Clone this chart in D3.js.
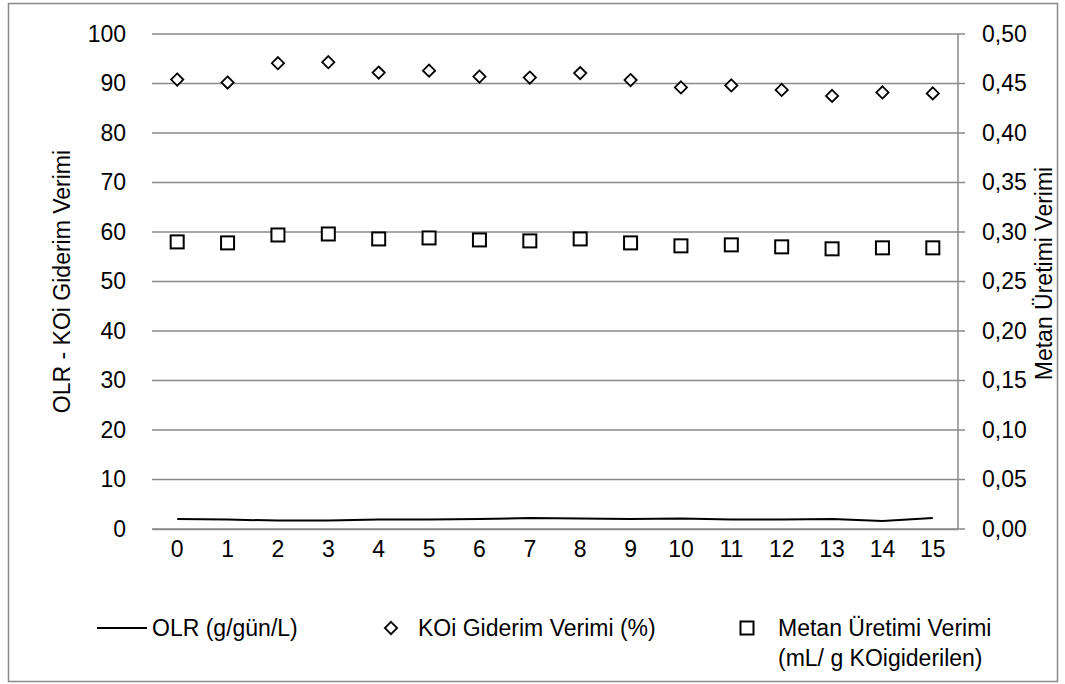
<!DOCTYPE html>
<html>
<head>
<meta charset="utf-8">
<script src="https://cdn.jsdelivr.net/npm/d3@7"></script>
<style>
  html, body { margin: 0; padding: 0; background: #fff; }
  svg text { font-family: "Liberation Sans", Arial, sans-serif; fill: #000; }
</style>
</head>
<body>
<svg id="chart" width="1065" height="684"></svg>
<script>
const categories = ["0","1","2","3","4","5","6","7","8","9","10","11","12","13","14","15"];
const olr = [2.0, 1.9, 1.7, 1.7, 1.9, 1.9, 2.0, 2.2, 2.1, 2.0, 2.1, 1.9, 1.9, 2.0, 1.6, 2.2];
const koiGiderim = [90.8, 90.2, 94.1, 94.3, 92.2, 92.6, 91.4, 91.2, 92.1, 90.7, 89.2, 89.6, 88.7, 87.5, 88.2, 88.0];
const metanUretimi = [0.290, 0.289, 0.297, 0.298, 0.293, 0.294, 0.292, 0.291, 0.293, 0.289, 0.286, 0.287, 0.285, 0.283, 0.284, 0.284];
const leftTicks = [0,10,20,30,40,50,60,70,80,90,100];
const rightTicks = [0,0.05,0.10,0.15,0.20,0.25,0.30,0.35,0.40,0.45,0.50];
const leftTitle = "OLR - KOi Giderim Verimi";
const rightTitle = "Metan Üretimi Verimi";
const legendLabels = ["OLR (g/gün/L)", "KOi Giderim Verimi (%)", "Metan Üretimi Verimi", "(mL/ g  KOigiderilen)"];

const svg = d3.select("#chart");
const FS = 23;
const m = {left: 152, right: 958, top: 34, bottom: 529};
const gridColor = "#8a8a8a";

// outer border
svg.append("rect").attr("x", 8.5).attr("y", 3.5).attr("width", 1049).attr("height", 678)
  .attr("fill", "none").attr("stroke", "#8a8a8a").attr("stroke-width", 1.5);

const x = d3.scaleBand().domain(categories).range([m.left, m.right]);
const yL = d3.scaleLinear().domain([0, 100]).range([m.bottom, m.top]);
const yR = d3.scaleLinear().domain([0, 0.5]).range([m.bottom, m.top]);

// gridlines
svg.append("g").selectAll("line").data(leftTicks).join("line")
  .attr("x1", m.left).attr("x2", m.right + 7)
  .attr("y1", d => yL(d)).attr("y2", d => yL(d))
  .attr("stroke", gridColor).attr("stroke-width", 1.5);

// right axis line
svg.append("line").attr("x1", m.right).attr("x2", m.right)
  .attr("y1", m.top).attr("y2", m.bottom)
  .attr("stroke", gridColor).attr("stroke-width", 1.5);

// left axis labels
const gL = svg.append("g").attr("transform", `translate(${m.left},0)`)
  .call(d3.axisLeft(yL).tickValues(leftTicks).tickSize(0).tickPadding(26));
gL.select(".domain").remove();
gL.selectAll("text").style("font-size", FS + "px").style("font-family", '"Liberation Sans", Arial, sans-serif').attr("fill", "#000");

// right axis labels
const fmtR = d => d3.format(".2f")(d).replace(".", ",");
const gR = svg.append("g").attr("transform", `translate(${m.right},0)`)
  .call(d3.axisRight(yR).tickValues(rightTicks).tickSize(0).tickPadding(24).tickFormat(fmtR));
gR.select(".domain").remove();
gR.selectAll("text").style("font-size", FS + "px").style("font-family", '"Liberation Sans", Arial, sans-serif').attr("fill", "#000");

// bottom axis labels
const gB = svg.append("g").attr("transform", `translate(0,${m.bottom})`)
  .call(d3.axisBottom(x).tickSize(0).tickPadding(12));
gB.select(".domain").attr("stroke", gridColor).attr("stroke-width", 1.5);
gB.selectAll("text").style("font-size", FS + "px").style("font-family", '"Liberation Sans", Arial, sans-serif').attr("fill", "#000");

const cx = d => x(d) + x.bandwidth() / 2;

// OLR line
svg.append("path").datum(olr)
  .attr("d", d3.line().x((d, i) => cx(categories[i])).y(d => yL(d)))
  .attr("fill", "none").attr("stroke", "#000").attr("stroke-width", 2);

// diamonds
const diamond = d3.symbol().type(d3.symbolDiamond2).size(95);
svg.append("g").selectAll("path").data(koiGiderim).join("path")
  .attr("d", diamond)
  .attr("transform", (d, i) => `translate(${cx(categories[i])},${yL(d)})`)
  .attr("fill", "#fff").attr("stroke", "#000").attr("stroke-width", 1.8);

// squares
const sq = 13;
svg.append("g").selectAll("rect").data(metanUretimi).join("rect")
  .attr("x", (d, i) => cx(categories[i]) - sq / 2)
  .attr("y", d => yR(d) - sq / 2)
  .attr("width", sq).attr("height", sq)
  .attr("fill", "#fff").attr("stroke", "#000").attr("stroke-width", 2);

// axis titles
svg.append("text").attr("transform", `translate(70,${(m.top + m.bottom) / 2}) rotate(-90)`)
  .attr("text-anchor", "middle").style("font-size", FS + "px").text(leftTitle);
svg.append("text").attr("transform", `translate(1052,${(m.top + m.bottom) / 2 - 8}) rotate(-90)`)
  .attr("text-anchor", "middle").style("font-size", FS + "px").text(rightTitle);

// legend
const ly = 628;
const lg = svg.append("g");
lg.append("line").attr("x1", 97).attr("x2", 147).attr("y1", ly).attr("y2", ly)
  .attr("stroke", "#000").attr("stroke-width", 2);
lg.append("text").attr("x", 152).attr("y", ly).attr("dy", "0.35em").style("font-size", FS + "px").text(legendLabels[0]);
lg.append("path").attr("d", diamond).attr("transform", `translate(391,${ly})`)
  .attr("fill", "#fff").attr("stroke", "#000").attr("stroke-width", 1.8);
lg.append("text").attr("x", 418).attr("y", ly).attr("dy", "0.35em").style("font-size", FS + "px").text(legendLabels[1]);
lg.append("rect").attr("x", 747 - sq / 2).attr("y", ly - sq / 2).attr("width", sq).attr("height", sq)
  .attr("fill", "#fff").attr("stroke", "#000").attr("stroke-width", 2);
lg.append("text").attr("x", 778).attr("y", ly).attr("dy", "0.35em").style("font-size", FS + "px").text(legendLabels[2]);
lg.append("text").attr("x", 778).attr("y", ly + 30).attr("dy", "0.35em").style("font-size", FS + "px").text(legendLabels[3]);
</script>
</body>
</html>
